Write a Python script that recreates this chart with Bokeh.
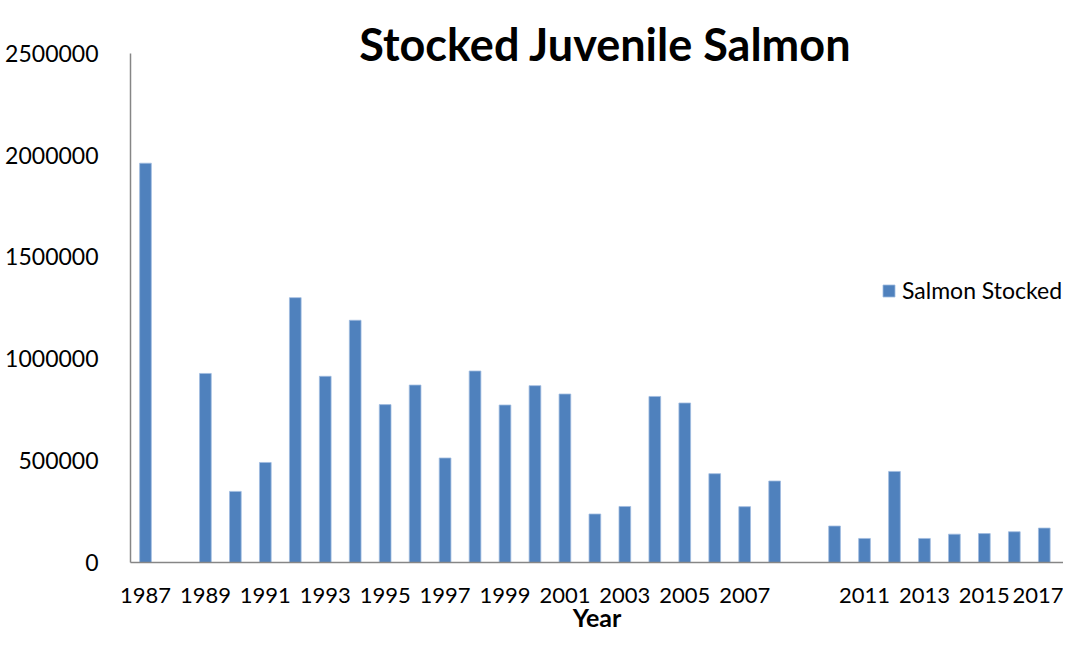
from bokeh.plotting import figure
from bokeh.models import Range1d, FixedTicker, Legend, LegendItem, ColumnDataSource, Label
from bokeh.embed import file_html
from bokeh.resources import INLINE
import numpy as np

# ---- data ----
years = list(range(1987, 2018))
salmon_stocked = [1960000, None, 928000, 349000, 491000, 1300000, 914000, 1189000,
                  775000, 871000, 513000, 940000, 773000, 868000, 827000, 238000,
                  275000, 815000, 783000, 436000, 274000, 400000, None, 179000,
                  118000, 447000, 118000, 139000, 142000, 151000, 169000]
x_tick_years = [1987, 1989, 1991, 1993, 1995, 1997, 1999, 2001, 2003, 2005, 2007,
                2011, 2013, 2015, 2017]
y_ticks = [0, 500000, 1000000, 1500000, 2000000, 2500000]
y_tick_labels = ["0", "500000", "1000000", "1500000", "2000000", "2500000"]
title_text = "Stocked Juvenile Salmon"
x_label = "Year"
series_name = "Salmon Stocked"

FONT = "Lato"
BLUE = "#4F81BD"
AXIS = "#868686"

W, H = 1063, 634
LEFT, BOTTOM = 130, 72
FRAME_H = H - BOTTOM          # frame spans from canvas top to x axis
Y_MAX = 2500000
TOP_GAP = 52.7                # pixels between frame top and the 2500000 line
y_end = Y_MAX * FRAME_H / (FRAME_H - TOP_GAP)
X_START = 1986.5
X_END = X_START + (W - LEFT) / 29.96

src = ColumnDataSource(dict(
    year=years,
    val=[np.nan if v is None else v for v in salmon_stocked],
))

p = figure(width=W, height=H, output_backend="svg", toolbar_location=None,
           x_range=Range1d(X_START, X_END), y_range=Range1d(0, y_end),
           min_border_left=LEFT, min_border_right=0, min_border_bottom=BOTTOM,
           min_border_top=0)

r = p.vbar(x="year", top="val", width=0.39, source=src, fill_color=BLUE,
           line_color="#9FBBE0", line_width=0.8)

p.outline_line_color = None
p.grid.grid_line_color = None
p.background_fill_color = "white"
p.border_fill_color = "white"

# chart title, drawn inside the (extended) frame
p.add_layout(Label(x=475, y=FRAME_H - 43.3, x_units="screen", y_units="screen",
                   text=title_text, text_font=FONT, text_font_size="45px",
                   text_font_style="bold", text_color="black",
                   text_align="center", text_baseline="alphabetic"))

# x axis
xa = p.xaxis[0]
xa.ticker = FixedTicker(ticks=x_tick_years)
xa.major_label_overrides = {y: str(y) for y in x_tick_years}
xa.axis_line_color = AXIS
xa.axis_line_width = 1.5
xa.major_tick_line_color = None
xa.minor_tick_line_color = None
xa.major_label_text_font = FONT
xa.major_label_text_font_size = "22px"
xa.major_label_text_color = "black"
xa.major_label_standoff = 19
xa.axis_label = x_label
xa.axis_label_text_font = FONT
xa.axis_label_text_font_size = "25px"
xa.axis_label_text_font_style = "bold"
xa.axis_label_text_color = "black"
xa.axis_label_standoff = -4

# y axis
ya = p.yaxis[0]
ya.ticker = FixedTicker(ticks=y_ticks)
ya.bounds = (0, Y_MAX)
ya.major_label_overrides = dict(zip(y_ticks, y_tick_labels))
ya.axis_line_color = AXIS
ya.axis_line_width = 1.5
ya.major_tick_line_color = None
ya.minor_tick_line_color = None
ya.major_label_text_font = FONT
ya.major_label_text_font_size = "23px"
ya.major_label_text_color = "black"
ya.major_label_standoff = 26

legend = Legend(items=[LegendItem(label=series_name, renderers=[r])],
                location=(751, 258), orientation="vertical")
legend.border_line_color = None
legend.background_fill_alpha = 0
legend.padding = 0
legend.margin = 0
legend.glyph_width = 15
legend.glyph_height = 15
legend.label_standoff = 6
legend.label_text_font = FONT
legend.label_text_font_size = "23px"
legend.label_text_color = "black"
p.add_layout(legend, "center")

open("out.html", "w").write(file_html(p, INLINE))
